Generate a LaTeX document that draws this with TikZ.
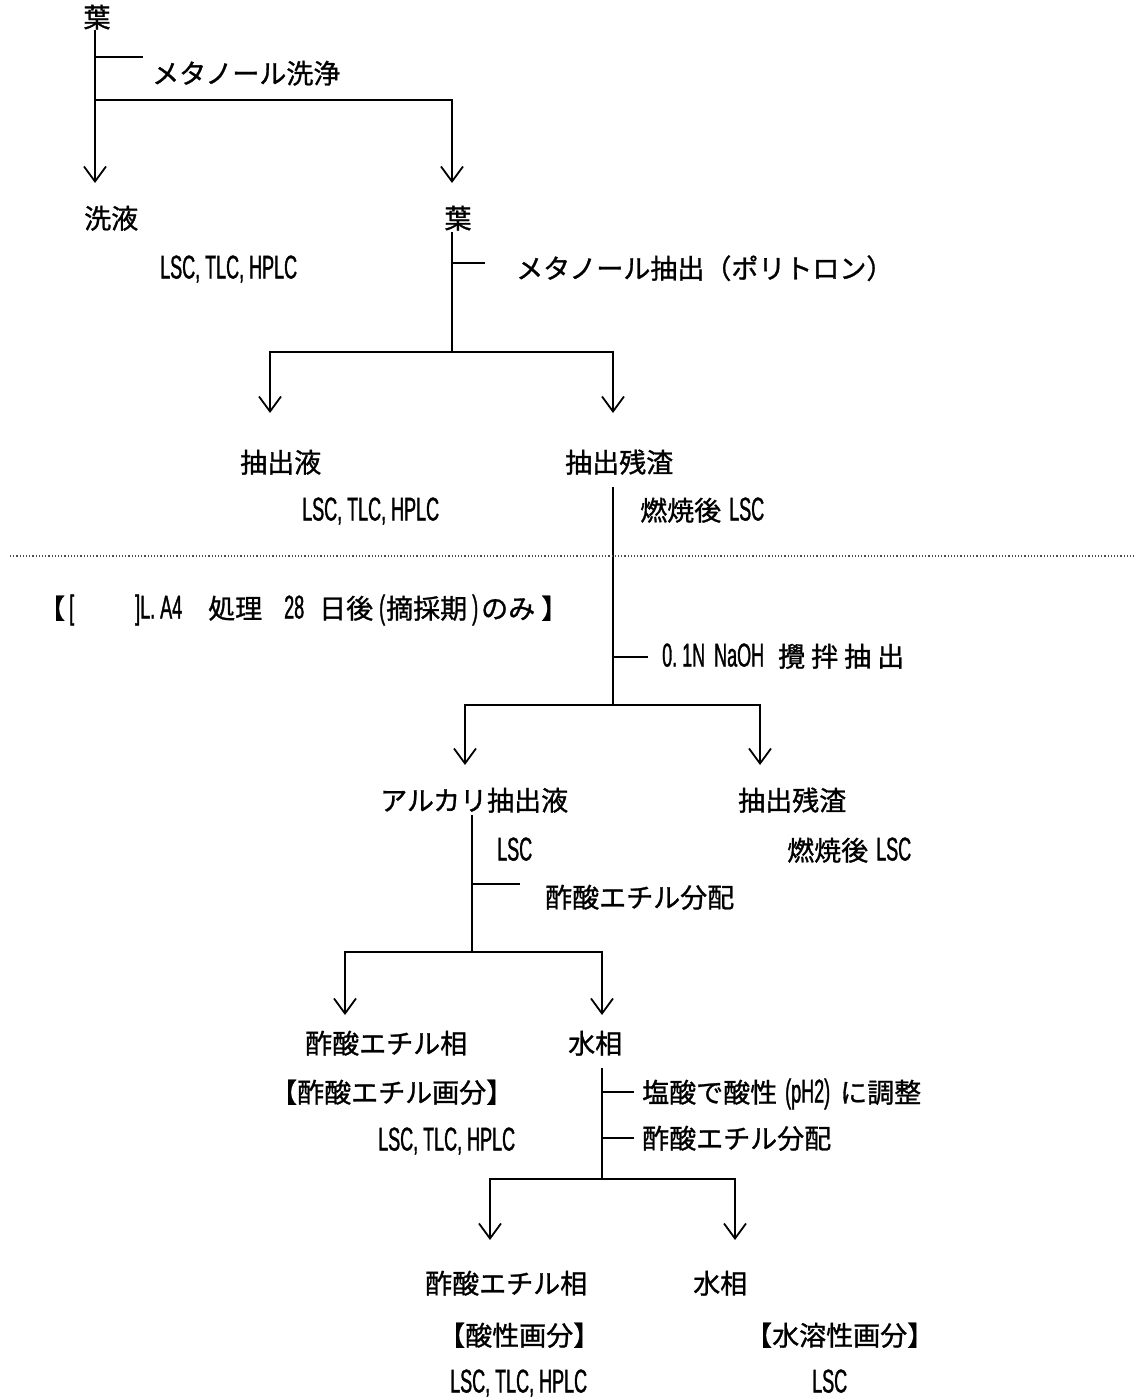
\documentclass[tikz,border=0pt]{standalone}
\usepackage{fontspec}
\setmainfont{Noto Sans CJK JP}[FakeBold=1.1]
\newfontfamily\latf{Liberation Sans}[FakeStretch=0.545,FakeBold=1.0]
\newcommand\lt[1]{{\latf\fontsize{33}{33}\selectfont #1}}
\newcommand\seg[2]{\makebox[#1pt][l]{#2}}
\usetikzlibrary{arrows.meta}
\tikzset{
  lbl/.style={inner sep=0pt, anchor=west, font=\fontsize{27}{27}\selectfont, text height=24pt, text depth=3pt},
  ln/.style={line width=1.8pt},
  arr/.style={line width=1.8pt, -{Straight Barb[length=15pt,width=22pt,line width=1.8pt]}},
  dots/.style={line width=1.2pt, dotted, black!70}
}
\begin{document}
\begin{tikzpicture}[x=1pt,y=-1pt]
\useasboundingbox (0,0) rectangle (1140,1397);
% --- texts
\node[lbl,anchor=center] (leafA) at (97,17) {葉};
\node[lbl] (mwash) at (152,73) {メタノール洗浄};
\node[lbl] (wash) at (84,218) {洗液};
\node[lbl] (washA) at (160,268) {\lt{LSC, TLC, HPLC}};
\node[lbl,anchor=center] (leafB) at (458,218) {葉};
\node[lbl] (mext) at (516,268) {メタノール抽出（ポリトロン）};
\node[lbl] (ext) at (240,462) {抽出液};
\node[lbl] (extA) at (302,510) {\lt{LSC, TLC, HPLC}};
\node[lbl] (res) at (565,462) {抽出残渣};
\node[lbl] (resA) at (640,510) {燃焼後\hspace{8pt}\lt{LSC}};
\node[lbl] (note) at (38,608) {\seg{31}{【}\seg{66}{\lt{[}}\seg{73}{\lt{]L. A4}}\seg{76}{処理}\seg{35}{\lt{28}}\seg{60}{日後}\seg{7}{\lt{(}}\seg{86}{摘採期}\seg{9}{\lt{)}}\seg{60}{のみ}】};
\node[lbl] (naoh) at (662,656) {\seg{116}{\lt{0.\hspace{5pt}1N\hspace{9pt}NaOH}}攪\hspace{6pt}拌\hspace{6pt}抽\hspace{6pt}出};
\node[lbl] (alk) at (380,800) {アルカリ抽出液};
\node[lbl] (res2) at (738,800) {抽出残渣};
\node[lbl] (alkA) at (497,850) {\lt{LSC}};
\node[lbl] (res2A) at (787,850) {燃焼後\hspace{8pt}\lt{LSC}};
\node[lbl] (part1) at (545,897) {酢酸エチル分配};
\node[lbl] (ea1) at (305,1043) {酢酸エチル相};
\node[lbl] (aq1) at (568,1043) {水相};
\node[lbl] (ea1f) at (270,1092) {【酢酸エチル画分】};
\node[lbl] (ea1A) at (378,1140) {\lt{LSC, TLC, HPLC}};
\node[lbl] (acid) at (642,1092) {塩酸で酸性\hspace{8pt}\lt{(pH2)}\hspace{10pt}に調整};
\node[lbl] (part2) at (642,1138) {酢酸エチル分配};
\node[lbl] (ea2) at (425,1283) {酢酸エチル相};
\node[lbl] (aq2) at (693,1283) {水相};
\node[lbl] (ea2f) at (438,1335) {【酸性画分】};
\node[lbl] (aq2f) at (745,1335) {【水溶性画分】};
\node[lbl] (ea2A) at (450,1382) {\lt{LSC, TLC, HPLC}};
\node[lbl] (aq2A) at (812,1382) {\lt{LSC}};
% --- junction coordinates
\coordinate (s1) at (95,30);
\coordinate (t1) at (95,57);
\coordinate (t1e) at (143,57);
\coordinate (h1) at (95,100);
\coordinate (h1r) at (452,100);
\coordinate (e1l) at (95,183);
\coordinate (e1r) at (452,183);
\coordinate (s2) at (452,232);
\coordinate (t2) at (452,263);
\coordinate (t2e) at (485,263);
\coordinate (h2) at (452,352);
\coordinate (h2l) at (270,352);
\coordinate (h2r) at (613,352);
\coordinate (e2l) at (270,413);
\coordinate (e2r) at (613,413);
\coordinate (s3) at (613,487);
\coordinate (t3) at (613,657);
\coordinate (t3e) at (648,657);
\coordinate (h3) at (613,705);
\coordinate (h3l) at (465,705);
\coordinate (h3r) at (760,705);
\coordinate (e3l) at (465,765);
\coordinate (e3r) at (760,765);
\coordinate (s4) at (472,815);
\coordinate (t4) at (472,884);
\coordinate (t4e) at (520,884);
\coordinate (h4) at (472,952);
\coordinate (h4l) at (345,952);
\coordinate (h4r) at (602,952);
\coordinate (e4l) at (345,1015);
\coordinate (e4r) at (602,1015);
\coordinate (s5) at (602,1068);
\coordinate (t5a) at (602,1092);
\coordinate (t5ae) at (634,1092);
\coordinate (t5b) at (602,1138);
\coordinate (t5be) at (634,1138);
\coordinate (h5) at (602,1179);
\coordinate (h5l) at (490,1179);
\coordinate (h5r) at (735,1179);
\coordinate (e5l) at (490,1240);
\coordinate (e5r) at (735,1240);
\coordinate (dl) at (10,556);
\coordinate (dr) at (1135,556);
% --- connectors
\draw[ln] (s1) -- (h1);
\draw[ln] (t1) -- (t1e);
\draw[arr] (h1r) -- (h1) -- (e1l);
\draw[arr] (h1) -- (h1r) -- (e1r);
\draw[ln] (s2) -- (h2);
\draw[ln] (t2) -- (t2e);
\draw[arr] (h2) -- (h2l) -- (e2l);
\draw[arr] (h2) -- (h2r) -- (e2r);
\draw[ln] (s3) -- (h3);
\draw[ln] (t3) -- (t3e);
\draw[arr] (h3) -- (h3l) -- (e3l);
\draw[arr] (h3) -- (h3r) -- (e3r);
\draw[ln] (s4) -- (h4);
\draw[ln] (t4) -- (t4e);
\draw[arr] (h4) -- (h4l) -- (e4l);
\draw[arr] (h4) -- (h4r) -- (e4r);
\draw[ln] (s5) -- (h5);
\draw[ln] (t5a) -- (t5ae);
\draw[ln] (t5b) -- (t5be);
\draw[arr] (h5) -- (h5l) -- (e5l);
\draw[arr] (h5) -- (h5r) -- (e5r);
\draw[dots] (dl) -- (dr);
\end{tikzpicture}
\end{document}
